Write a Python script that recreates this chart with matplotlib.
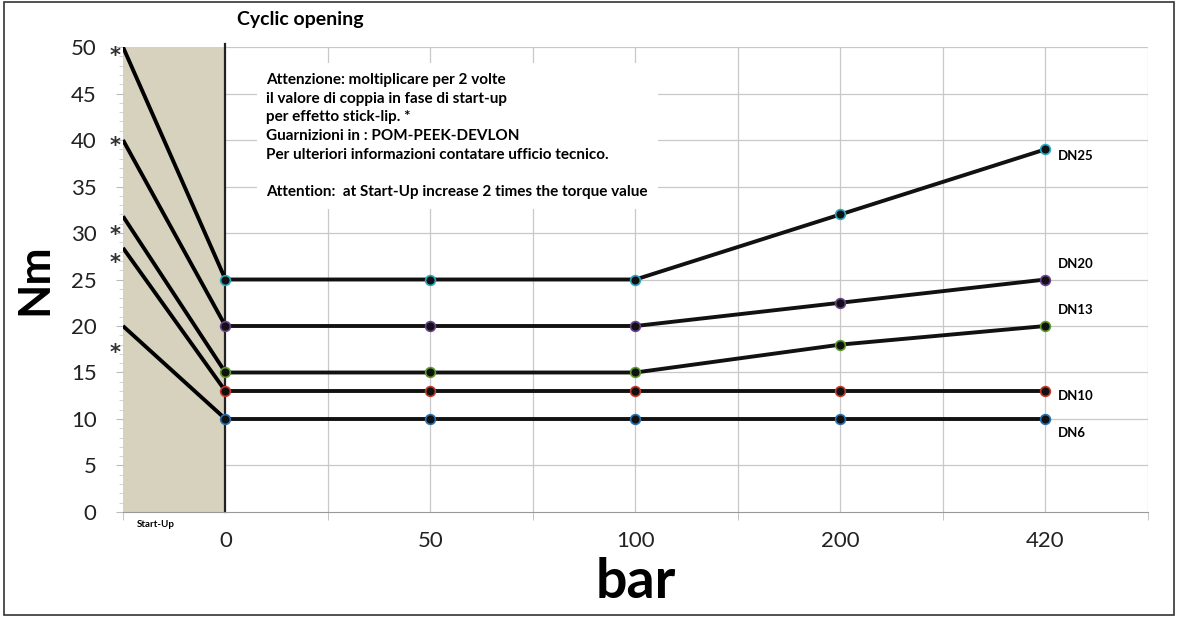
import numpy as np
import matplotlib.pyplot as plt

# pressure categories (bar) and torque values (Nm)
pressures = ["0", "50", "100", "200", "420"]
dn25 = [25, 25, 25, 32, 39]
dn20 = [20, 20, 20, 22.5, 25]
dn13 = [15, 15, 15, 18, 20]
dn10 = [13, 13, 13, 13, 13]
dn6 = [10, 10, 10, 10, 10]
startup = [50, 40, 31.8, 28.4, 20]   # start-up torque per series
series_names = ["DN25", "DN20", "DN13", "DN10", "DN6"]
edge_colors = ["#2aa6c0", "#6a3d8f", "#5a9a2a", "#c0392b", "#2a70b0"]
label_offsets = [-0.7, 1.7, 1.7, -0.5, -1.5]
star_levels = [49.6, 39.9, 30.3, 27.3, 17.6]

plt.rcParams['font.family'] = ['Lato', 'DejaVu Sans']

fig = plt.figure(figsize=(11.79, 6.17), dpi=100)
ax = fig.add_axes([0.1043, 0.1702, 0.8694, 0.7536])

x = np.arange(len(pressures))

# grid
for gx in np.arange(0.5, 4.6, 0.5):
    ax.axvline(gx, color="#c8c8c8", lw=0.9, zorder=0)
for gy in range(5, 51, 5):
    ax.axhline(gy, color="#c8c8c8", lw=0.9, zorder=0)

# start-up zone
ax.axvspan(-0.5, 0, ymin=0, ymax=1, color="#d6d2bd", zorder=1, lw=0)
ax.plot([0, 0], [0, 50.3], color="#222222", lw=1.6, zorder=2, clip_on=False)

all_series = [dn25, dn20, dn13, dn10, dn6]
for vals, su, name, ec, off in zip(all_series, startup, series_names, edge_colors, label_offsets):
    ax.plot([-0.5, 0], [su, vals[0]], color="black", lw=2.8, zorder=3, solid_capstyle="butt")
    ax.plot(x, vals, color="#111111", lw=2.8, marker="o", ms=7,
            mfc="#111111", mec=ec, mew=1.2, zorder=4)
    ax.text(x[-1] + 0.06, vals[-1] + off, name, fontsize=9.5, fontweight="bold",
            va="center", ha="left", zorder=5)

# asterisks marking start-up values (glyph sits high, so nudge down)
for sl in star_levels:
    ax.text(-0.512, sl - 0.55, "*", fontsize=15, fontweight="bold", ha="right", va="center",
            color="#333333", family="DejaVu Sans")

ax.set_xlim(-0.5, 4.5)
ax.set_ylim(0, 50)

ax.set_yticks(range(0, 51, 5))
ax.set_yticks(range(0, 51, 1), minor=True)
ax.tick_params(axis="y", which="major", labelsize=16, length=5, color="#bbbbbb", pad=14,
               labelcolor="#222222")
ax.tick_params(axis="y", which="minor", length=3, color="#cccccc")

ax.set_xticks(x)
ax.set_xticklabels(pressures)
ax.set_xticks(np.arange(-0.5, 4.6, 0.5), minor=True)
ax.tick_params(axis="x", which="major", labelsize=16, length=0, pad=14, labelcolor="#222222")
ax.tick_params(axis="x", which="minor", length=6, color="#bbbbbb")
ax.text(-0.34, -0.9, "Start-Up", fontsize=7, fontweight="bold", ha="center", va="top")

for s in ["top", "right", "left"]:
    ax.spines[s].set_visible(False)
ax.spines["bottom"].set_color("#999999")

ax.set_ylabel("Nm", fontsize=32, fontweight="bold", labelpad=12)
ax.set_xlabel("bar", fontsize=40, fontweight="bold", labelpad=4)

fig.text(0.255, 0.968, "Cyclic opening", fontsize=14, fontweight="bold", ha="center", va="center")

note = ("Attenzione: moltiplicare per 2 volte\n"
        "il valore di coppia in fase di start-up\n"
        "per effetto stick-lip. *\n"
        "Guarnizioni in : POM-PEEK-DEVLON\n"
        "Per ulteriori informazioni contatare ufficio tecnico.\n"
        "\n"
        "Attention:  at Start-Up increase 2 times the torque value")
ax.text(0.2, 47.2, note, fontsize=11, fontweight="bold", ha="left", va="top",
        linespacing=1.42, zorder=5,
        bbox=dict(facecolor="white", edgecolor="none", pad=7))

# outer frame
fig.patches.append(plt.Rectangle((0.003, 0.004), 0.993, 0.992, transform=fig.transFigure,
                                 fill=False, edgecolor="#333333", lw=1.2))

fig.savefig("out.png", dpi=100)
